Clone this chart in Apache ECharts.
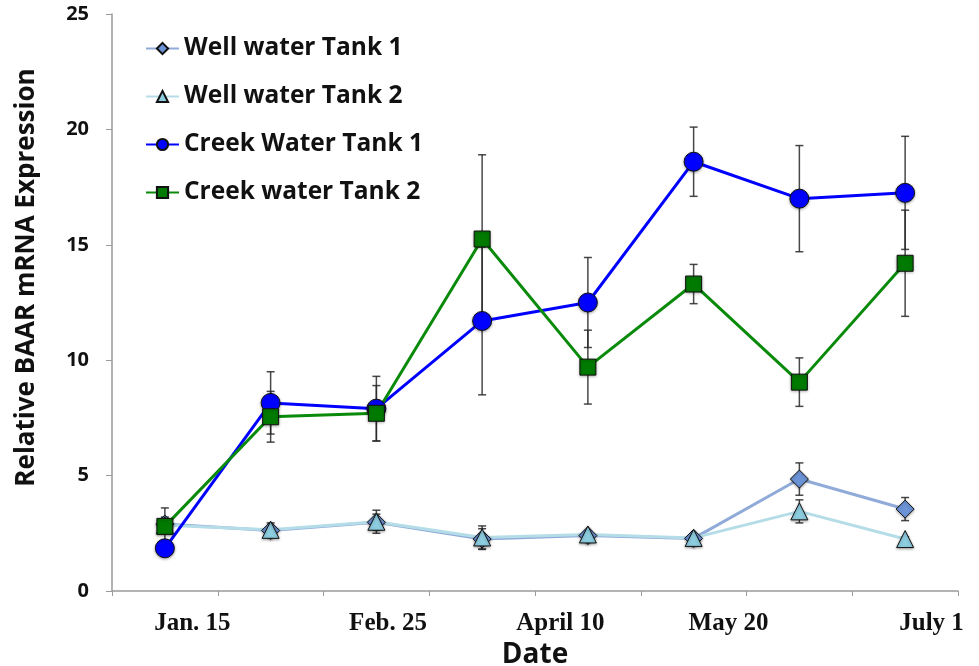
<!DOCTYPE html>
<html>
<head>
<meta charset="utf-8">
<script src="https://cdn.jsdelivr.net/npm/echarts@6/dist/echarts.min.js"></script>
<style>
  html, body { margin: 0; padding: 0; background: #fff; }
  #chart { width: 979px; height: 666px; }
</style>
</head>
<body>
<div id="chart"></div>
<script>
// sampling points (8 collections)
var samples = ['1', '2', '3', '4', '5', '6', '7', '8']
// date labels printed under the axis and where they sit (in category units)
var dateLabels = ['Jan. 15', 'Feb. 25', 'April 10', 'May 20', 'July 1']
var dateLabelPos = [0.76, 2.61, 4.24, 5.83, 7.75]

var well1 = [2.9, 2.62, 2.98, 2.25, 2.4, 2.28, 4.85, 3.55]
var well1Err = [0.3, 0.2, 0.35, 0.45, 0.15, 0.1, 0.7, 0.5]
var well2 = [2.85, 2.65, 3.0, 2.32, 2.45, 2.3, 3.45, 2.25]
var well2Err = [0.25, 0.3, 0.5, 0.5, 0.15, 0.1, 0.5, 0.1]
var creek1 = [1.85, 8.15, 7.9, 11.7, 12.5, 18.6, 17.0, 17.25]
var creek1Err = [0.2, 1.35, 1.4, 3.2, 1.95, 1.5, 2.3, 2.45]
var creek2 = [2.8, 7.55, 7.7, 15.25, 9.7, 13.3, 9.05, 14.2]
var creek2Err = [0.8, 1.1, 1.2, 3.65, 1.6, 0.85, 1.05, 2.3]

var chart = echarts.init(document.getElementById('chart'))

function errorSeries(vals, errs) {
  return {
    type: 'custom',
    xAxisIndex: 0,
    z: 3,
    silent: true,
    data: vals.map(function(v, i) { return [i, v - errs[i], v + errs[i]] }),
    renderItem: function(params, api) {
      var lo = api.coord([api.value(0), api.value(1)])
      var hi = api.coord([api.value(0), api.value(2)])
      var cap = 4
      var style = { stroke: 'rgba(40,40,40,0.85)', lineWidth: 1.5 }
      return {
        type: 'group',
        children: [
          { type: 'line', shape: { x1: lo[0], y1: lo[1], x2: hi[0], y2: hi[1] }, style: style },
          { type: 'line', shape: { x1: lo[0] - cap, y1: lo[1], x2: lo[0] + cap, y2: lo[1] }, style: style },
          { type: 'line', shape: { x1: hi[0] - cap, y1: hi[1], x2: hi[0] + cap, y2: hi[1] }, style: style }
        ]
      }
    }
  }
}

function lineSeries(name, vals, symbol, size, fill, lineColor) {
  return {
    name: name,
    type: 'line',
    xAxisIndex: 0,
    z: 4,
    data: vals,
    symbol: symbol,
    symbolSize: size,
    showAllSymbol: true,
    itemStyle: {
      color: fill,
      borderColor: '#111',
      borderWidth: 1,
      shadowColor: 'rgba(0,0,0,0.35)',
      shadowBlur: 3,
      shadowOffsetY: 1
    },
    lineStyle: { color: lineColor, width: 3 },
    emphasis: { disabled: true }
  }
}

var option = {
  animation: false,
  grid: { left: 112, right: 21, top: 14, bottom: 75, outerBoundsMode: 'none' },
  legend: {
    orient: 'vertical',
    left: 140,
    top: 31,
    itemGap: 23,
    itemWidth: 33,
    itemHeight: 14,
    data: ['Well water Tank 1', 'Well water Tank 2', 'Creek Water Tank 1', 'Creek water Tank 2'],
    textStyle: { fontFamily: 'Open Sans', fontWeight: 'bold', fontSize: 24.5, color: '#111' }
  },
  xAxis: [
    {
      type: 'category',
      data: samples,
      boundaryGap: true,
      axisLine: { lineStyle: { color: '#9a9a9a', width: 1.5 } },
      axisTick: { show: true, interval: 0, length: 5, lineStyle: { color: '#9a9a9a' } },
      axisLabel: { show: false },
      name: 'Date',
      nameLocation: 'middle',
      nameGap: 50,
      nameTextStyle: { fontFamily: 'Open Sans', fontWeight: 'bold', fontSize: 28, color: '#111' }
    },
    {
      type: 'value',
      position: 'bottom',
      min: 0,
      max: samples.length,
      axisLine: { show: false },
      axisTick: { show: false },
      splitLine: { show: false },
      axisLabel: {
        customValues: dateLabelPos,
        margin: 20,
        fontFamily: 'Liberation Serif',
        fontWeight: 'bold',
        fontSize: 25,
        color: '#111',
        formatter: function(v) {
          for (var i = 0; i < dateLabelPos.length; i++) {
            if (Math.abs(dateLabelPos[i] - v) < 1e-6) return dateLabels[i]
          }
          return ''
        }
      }
    }
  ],
  yAxis: {
    type: 'value',
    min: 0,
    max: 25,
    interval: 5,
    axisLine: { show: true, lineStyle: { color: '#9a9a9a', width: 1.5 } },
    axisTick: { show: true, length: 6, lineStyle: { color: '#9a9a9a' } },
    splitLine: { show: false },
    axisLabel: { fontFamily: 'Open Sans', fontWeight: 'bold', fontSize: 20, color: '#111', margin: 23 },
    name: 'Relative BAAR mRNA Expression',
    nameLocation: 'middle',
    nameGap: 72,
    nameTextStyle: { fontFamily: 'Open Sans', fontWeight: 'bold', fontSize: 26, color: '#111', padding: [0, 0, 0, 50] }
  },
  series: [
    errorSeries(well1, well1Err),
    errorSeries(well2, well2Err),
    errorSeries(creek1, creek1Err),
    errorSeries(creek2, creek2Err),
    lineSeries('Well water Tank 1', well1, 'diamond', 18, '#6b93d6', '#91abd9'),
    lineSeries('Well water Tank 2', well2, 'triangle', 17, '#8dcde0', '#b5dde8'),
    lineSeries('Creek Water Tank 1', creek1, 'circle', 19, '#0000ff', '#0000ff'),
    lineSeries('Creek water Tank 2', creek2, 'rect', 16, '#007a00', '#0a8a0a')
  ]
}

chart.setOption(option)
</script>
</body>
</html>
